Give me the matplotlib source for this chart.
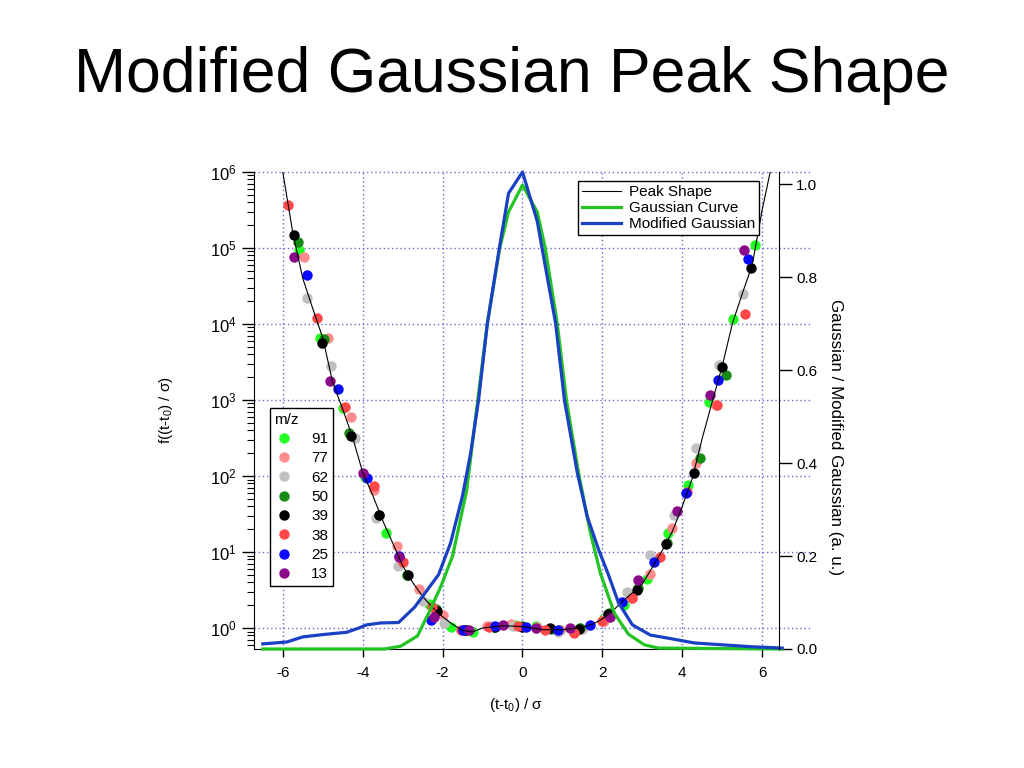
import numpy as np
import matplotlib
matplotlib.use('Agg')
import matplotlib.pyplot as plt
from matplotlib.ticker import FormatStrFormatter, LogLocator

plt.rcParams['font.family'] = ['Liberation Sans', 'DejaVu Sans']
plt.rcParams['mathtext.fontset'] = 'custom'
plt.rcParams['mathtext.rm'] = 'Liberation Sans'
plt.rcParams['mathtext.it'] = 'Liberation Sans:italic'
plt.rcParams['axes.unicode_minus'] = False

# peak shape (left, log axis)
peak_x = [-6.05, -6.0, -5.75, -5.5, -5.25, -5.0, -4.75, -4.5, -4.25, -4.0, -3.75, -3.5, -3.25,
          -3.0, -2.75, -2.5, -2.25, -2.0, -1.75, -1.5, -1.25, -1.0, -0.5, 0.0, 0.5, 1.0, 1.5,
          1.75, 2.0, 2.25, 2.5, 2.75, 3.0, 3.25, 3.5, 3.75, 4.0, 4.25, 4.5, 4.75, 5.0, 5.25,
          5.5, 5.75, 6.0, 6.2, 6.25]
peak_y = [1.3e6, 1.0e6, 1.6e5, 4.0e4, 1.6e4, 6.6e3, 1.7e3, 760, 320, 112, 56, 26, 13.2,
          6.6, 4.0, 2.6, 1.86, 1.41, 1.12, 0.93, 0.89, 1.0, 1.07, 1.05, 0.95, 0.95, 1.02,
          1.12, 1.32, 1.66, 2.24, 2.9, 3.8, 6.3, 10.5, 18.6, 40, 93, 316, 955, 2.8e3, 1.0e4,
          2.5e4, 6.0e4, 3.2e5, 1.0e6, 1.3e6]

# gaussian curves (right axis)
gauss_x = [-6.5, -3.45, -3.05, -2.63, -2.35, -2.05, -1.75, -1.4, -1.12, -0.88, -0.57, -0.35,
           0.0, 0.37, 0.57, 0.87, 1.1, 1.4, 1.7, 1.95, 2.3, 2.65, 3.05, 3.4, 6.5]
gauss_y = [0.0, 0.0, 0.006, 0.028, 0.077, 0.133, 0.20, 0.34, 0.535, 0.70, 0.862, 0.94,
           0.998, 0.94, 0.862, 0.70, 0.535, 0.38, 0.25, 0.163, 0.077, 0.032, 0.009, 0.002, 0.0]
mod_x = [-6.5, -5.9, -5.5, -5.0, -4.4, -4.1, -3.9, -3.55, -3.1, -2.7, -2.4, -2.1, -1.8, -1.5,
         -1.3, -1.1, -0.88, -0.58, -0.35, 0.0, 0.37, 0.49, 0.83, 1.05, 1.37, 1.62, 1.9, 2.15,
         2.4, 2.75, 3.2, 3.6, 4.3, 5.7, 6.5]
mod_y = [0.011, 0.015, 0.026, 0.031, 0.036, 0.045, 0.052, 0.056, 0.057, 0.090, 0.125, 0.160,
         0.228, 0.33, 0.42, 0.535, 0.70, 0.862, 0.98, 1.026, 0.92, 0.862, 0.70, 0.535, 0.38,
         0.285, 0.215, 0.16, 0.10, 0.052, 0.030, 0.024, 0.013, 0.005, 0.002]

# measured points per m/z
mz_labels = ['91', '77', '62', '50', '39', '38', '25', '13']
mz_colors = ['#22ff22', '#ff8c8c', '#c0c0c0', '#168c16', '#000000', '#ff4848', '#0a0aff', '#8a0a8a']
mz_x = [
    [-5.60, -5.07, -4.50, -3.95, -3.42, -2.88, -2.35, -1.80, -1.25, -0.72, -0.18, 0.35, 0.93,
     1.45, 2.03, 2.53, 3.12, 3.65, 4.15, 4.68, 5.28, 5.82],
    [-5.47, -4.88, -4.30, -3.72, -3.15, -2.60, -2.00, -1.47, -0.88, -0.30, 0.37, 0.95, 1.50,
     2.05, 2.75, 3.20, 3.75, 4.35, 4.85],
    [-5.40, -4.80, -4.20, -3.67, -3.12, -2.50, -1.97, -1.40, -0.82, -0.25, 0.35, 0.90, 1.50,
     2.10, 2.62, 3.20, 3.78, 4.35, 4.93, 5.52],
    [-5.63, -4.98, -4.33, -3.60, -2.88, -2.16, -1.44, -0.72, 0.0, 0.72, 1.44, 2.16, 2.88,
     3.62, 4.45, 5.10],
    [-5.72, -5.03, -4.28, -3.58, -2.86, -2.14, -1.42, -0.70, 0.0, 0.70, 1.42, 2.14, 2.87,
     3.58, 4.30, 5.00, 5.72],
    [-5.88, -5.15, -4.43, -3.71, -2.99, -2.27, -1.55, -0.83, -0.11, 0.57, 1.28, 2.00, 2.75,
     3.45, 4.12, 4.88, 5.58],
    [-5.40, -4.63, -3.88, -3.10, -2.30, -1.50, -0.70, 0.08, 0.90, 1.70, 2.50, 3.28, 4.10,
     4.90, 5.65],
    [-5.73, -4.82, -3.98, -3.10, -2.22, -1.35, -0.50, 0.35, 1.20, 2.20, 2.90, 3.87, 4.70, 5.55],
]
mz_y = [
    [9.3e4, 6.6e3, 780, 98, 18, 5.0, 2.1, 1.02, 0.89, 1.02, 1.1, 1.05, 0.93,
     1.0, 1.35, 2.0, 4.4, 17.8, 76, 930, 1.17e4, 1.1e5],
    [7.6e4, 6.6e3, 600, 66, 12, 3.3, 1.5, 0.95, 1.05, 1.12, 1.02, 0.95, 0.98,
     1.25, 2.45, 5.2, 21, 150, 850],
    [2.2e4, 2.8e3, 320, 28, 6.6, 2.3, 1.15, 0.95, 1.05, 1.08, 1.0, 0.89, 0.98,
     1.45, 2.95, 9.1, 31, 234, 2.9e3, 2.45e4],
    [1.2e5, 6.3e3, 370, 31, 5.0, 1.8, 0.95, 1.04, 1.06, 0.98, 1.0, 1.6, 3.4,
     13, 174, 2.14e3],
    [1.5e5, 5.6e3, 340, 31, 5.0, 1.7, 0.93, 1.03, 1.04, 1.0, 0.98, 1.55, 3.2,
     12.6, 110, 2.7e3, 5.5e4],
    [3.7e5, 1.2e4, 810, 74, 7.5, 1.9, 0.95, 1.02, 1.08, 0.93, 0.85, 1.25, 2.5,
     8.5, 62, 850, 1.35e4],
    [4.4e4, 1.4e3, 93, 9.0, 1.26, 0.93, 1.05, 1.02, 0.95, 1.1, 2.2, 7.4, 60,
     1.82e3, 7.2e4],
    [7.6e4, 1.8e3, 110, 8.5, 1.4, 0.93, 1.1, 1.0, 1.0, 1.4, 4.3, 35, 1.17e3, 9.3e4],
]

x_ticks = [-6, -4, -2, 0, 2, 4, 6]
right_ticks = [0.0, 0.2, 0.4, 0.6, 0.8, 1.0]
grid_decades = [1, 10, 100, 1e3, 1e4, 1e5, 1e6]
grid_color = '#6a6ad6'
grid_style = (0, (1, 2))

fig = plt.figure(figsize=(10.24, 7.68), dpi=100)
ax1 = fig.add_axes([254/1024, 1-649/768, 525/1024, 477/768])
ax2 = ax1.twinx()

# left: measured points + peak shape
for xs, ys, col, lab in zip(mz_x, mz_y, mz_colors, mz_labels):
    ax1.plot(xs, ys, linestyle='none', marker='o', markersize=7.5, markeredgewidth=0,
             color=col, label=lab, zorder=2)
peak_line, = ax1.plot(peak_x, peak_y, color='black', lw=0.8, zorder=3, label='Peak Shape')

ax1.set_yscale('log')
ax1.set_xlim(-6.72, 6.42)
ax1.set_ylim(0.53, 1.0e6)
ax1.set_xticks(x_ticks)
ax1.yaxis.set_major_locator(LogLocator(base=10, numticks=10))
ax1.yaxis.set_minor_locator(LogLocator(base=10, subs=np.arange(2, 10), numticks=20))
ax1.tick_params(axis='y', which='major', direction='out', length=9, width=1, labelsize=12)
ax1.tick_params(axis='y', which='minor', direction='out', length=5, width=0.8)
ax1.tick_params(axis='x', which='major', direction='out', length=6, width=1, labelsize=11, pad=6)
ax1.grid(axis='x', color=grid_color, linestyle=grid_style, lw=1)
for v in grid_decades:
    ax1.axhline(v, xmin=0, xmax=1.06, color=grid_color, linestyle=grid_style, lw=1,
                clip_on=False, zorder=0.5)
ax1.spines['top'].set_visible(False)
ax1.spines['right'].set_visible(False)
ax1.set_xlabel('(t-t$_0$) / σ', fontsize=11, labelpad=12)
ax1.set_ylabel('f((t-t$_0$) / σ)', fontsize=11)
ax1.yaxis.set_label_coords(-0.150, 0.5)

# right: gaussian curves
g_line, = ax2.plot(gauss_x, gauss_y, color='#22c322', lw=2.3, label='Gaussian Curve', clip_on=False)
m_line, = ax2.plot(mod_x, mod_y, color='#1a40c4', lw=2.3, label='Modified Gaussian', clip_on=False)
ax2.set_ylim(0, 1.026)
ax2.set_yticks(right_ticks)
ax2.yaxis.set_major_formatter(FormatStrFormatter('%.1f'))
ax2.tick_params(axis='y', direction='out', length=9, width=1, labelsize=11)
for s in ['top', 'left', 'bottom']:
    ax2.spines[s].set_visible(False)
ax2.set_ylabel('Gaussian / Modified Gaussian (a. u.)', fontsize=12.2, rotation=270, va='center')
ax2.yaxis.set_label_coords(1.107, 0.444)

leg1 = ax2.legend([peak_line, g_line, m_line], ['Peak Shape', 'Gaussian Curve', 'Modified Gaussian'],
                  loc='upper right', bbox_to_anchor=(0.962, 0.981), borderaxespad=0,
                  fontsize=11, handlelength=2.6, handletextpad=0.5, labelspacing=0.15,
                  borderpad=0.25, fancybox=False, edgecolor='black', framealpha=1)
leg1.get_frame().set_linewidth(1)
ax2.add_artist(leg1)

handles, labels = ax1.get_legend_handles_labels()
leg2 = ax2.legend(handles[:8], labels[:8], title='m/z', loc='upper left',
                  bbox_to_anchor=(0.030, 0.505), borderaxespad=0, fontsize=11, title_fontsize=11,
                  handlelength=1.2, handletextpad=1.2, labelspacing=0.35, borderpad=0.3,
                  fancybox=False, edgecolor='black', framealpha=1, alignment='left')
leg2.get_frame().set_linewidth(1)

fig.text(0.5, 1-92/768, 'Modified Gaussian Peak Shape', ha='center', va='baseline', fontsize=45)

fig.savefig('out.png', dpi=100)
